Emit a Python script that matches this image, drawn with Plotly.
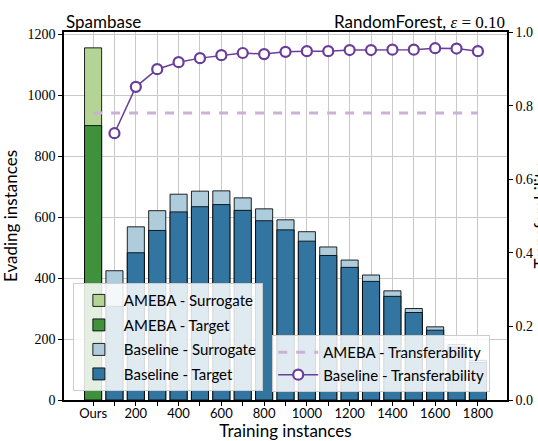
import plotly.graph_objects as go

# ---------------- data ----------------
categories = ["Ours", "100", "200", "300", "400", "500", "600", "700", "800", "900",
              "1000", "1100", "1200", "1300", "1400", "1500", "1600", "1700", "1800"]
tick_labels = ["Ours", "", "200", "", "400", "", "600", "", "800", "", "1000", "",
               "1200", "", "1400", "", "1600", "", "1800"]
baseline_x = categories[1:]
ameba_surrogate = [1155]
ameba_target = [900]
baseline_surrogate = [424, 568, 621, 675, 685, 686, 663, 627, 591, 552, 502, 459,
                      410, 358, 300, 240, 182, 130]
baseline_target = [307, 483, 556, 617, 634, 641, 622, 588, 558, 521, 474, 435,
                   389, 340, 287, 229, 174, 123]
baseline_transfer = [0.725, 0.851, 0.899, 0.918, 0.929, 0.937, 0.943, 0.940, 0.946,
                     0.948, 0.948, 0.951, 0.951, 0.952, 0.952, 0.956, 0.955, 0.948]
ameba_transfer = 0.78

# ---------------- style ----------------
SANS = "Lato, Open Sans, sans-serif"
SERIF = "Liberation Serif, DejaVu Serif, serif"
c_light_green = "#b3d495"
c_green = "#40913b"
c_light_blue = "#aeccdb"
c_blue = "#3275a1"
c_purple = "#6a3d9a"
c_light_purple = "#cab2d6"
edge = dict(color="rgba(0,0,0,0.85)", width=1)

fig = go.Figure()
fig.add_trace(go.Bar(x=["Ours"], y=ameba_surrogate, name="AMEBA - Surrogate",
                     marker=dict(color=c_light_green, line=edge), width=0.8,
                     legend="legend", legendgroup="a", yaxis="y"))
fig.add_trace(go.Bar(x=["Ours"], y=ameba_target, name="AMEBA - Target",
                     marker=dict(color=c_green, line=edge), width=0.8,
                     legend="legend", legendgroup="b", yaxis="y"))
fig.add_trace(go.Bar(x=baseline_x, y=baseline_surrogate, name="Baseline - Surrogate",
                     marker=dict(color=c_light_blue, line=edge), width=0.8,
                     legend="legend", legendgroup="c", yaxis="y"))
fig.add_trace(go.Bar(x=baseline_x, y=baseline_target, name="Baseline - Target",
                     marker=dict(color=c_blue, line=edge), width=0.8,
                     legend="legend", legendgroup="d", yaxis="y"))
fig.add_trace(go.Scatter(x=categories, y=[ameba_transfer] * len(categories),
                         mode="lines", name="AMEBA - Transferability",
                         line=dict(color=c_light_purple, width=3, dash="dash"),
                         legend="legend2", legendgroup="e", yaxis="y2"))
fig.add_trace(go.Scatter(x=baseline_x, y=baseline_transfer, mode="lines+markers",
                         name="Baseline - Transferability",
                         line=dict(color=c_purple, width=1.5),
                         marker=dict(symbol="circle", size=10, color="white",
                                     line=dict(color=c_purple, width=2.2)),
                         legend="legend2", legendgroup="f", yaxis="y2"))

fig.update_layout(
    width=538, height=441,
    margin=dict(l=64, r=31, t=32, b=41),
    paper_bgcolor="white", plot_bgcolor="white",
    barmode="overlay",
    font=dict(family=SANS, color="black", size=13),
    showlegend=True,
    xaxis=dict(type="category", categoryorder="array", categoryarray=categories,
               range=[-1.36, len(categories) - 1 + 1.36],
               tickvals=categories, ticktext=tick_labels,
               tickfont=dict(family=SANS, size=13), ticklabelstandoff=-3,
               ticks="outside", ticklen=4, tickwidth=1, tickcolor="black",
               showgrid=True, gridcolor="#c9c9c9", gridwidth=1,
               showline=True, linecolor="black", linewidth=1.6, mirror=True,
               title=dict(text="Training instances", font=dict(family=SANS, size=17),
                          standoff=3),
               zeroline=False, automargin=False),
    yaxis=dict(range=[0, 1207], tickvals=[0, 200, 400, 600, 800, 1000, 1200],
               tickfont=dict(family=SERIF, size=14),
               ticks="outside", ticklen=4, tickwidth=1, tickcolor="black",
               showgrid=True, gridcolor="#c9c9c9", gridwidth=1,
               showline=True, linecolor="black", linewidth=1.6,
               title=dict(text="Evading instances", font=dict(family=SANS, size=17),
                          standoff=6),
               zeroline=False, automargin=False),
    yaxis2=dict(overlaying="y", side="right", range=[0, 1],
                tickvals=[0, 0.2, 0.4, 0.6, 0.8, 1.0], tickformat=".1f",
                tickfont=dict(family=SERIF, size=14),
                ticks="outside", ticklen=4, tickwidth=1, tickcolor="black",
                showgrid=False, showline=True, linecolor="black", linewidth=1.6,
                zeroline=False, automargin=False),
    legend=dict(x=0.02, y=0.024, xanchor="left", yanchor="bottom",
                bgcolor="rgba(255,255,255,0.85)", bordercolor="#cccccc", borderwidth=1,
                font=dict(family=SANS, size=15), traceorder="grouped",
                itemwidth=40, tracegroupgap=2),
    legend2=dict(x=0.47, y=0.022, xanchor="left", yanchor="bottom",
                 bgcolor="rgba(255,255,255,0.85)", bordercolor="#cccccc", borderwidth=1,
                 font=dict(family=SANS, size=15), traceorder="grouped",
                 itemwidth=40, tracegroupgap=0),
)

fig.add_annotation(text="Spambase", xref="paper", yref="paper", x=0.0, y=1.0,
                   xanchor="left", yanchor="bottom", showarrow=False,
                   font=dict(family=SANS, size=17), yshift=-2)
fig.add_annotation(text="RandomForest, <span style='font-family:" + SERIF +
                   "'><i>ε</i> = 0.10</span>",
                   xref="paper", yref="paper", x=1.0, y=1.0,
                   xanchor="right", yanchor="bottom", showarrow=False,
                   font=dict(family=SANS, size=17), yshift=-2)
fig.add_annotation(text="Transferability", xref="paper", yref="paper",
                   x=(527 - 64) / 443, y=0.5, xanchor="left", yanchor="middle",
                   textangle=-90, showarrow=False, font=dict(family=SANS, size=17))

fig.write_html("out.html")
